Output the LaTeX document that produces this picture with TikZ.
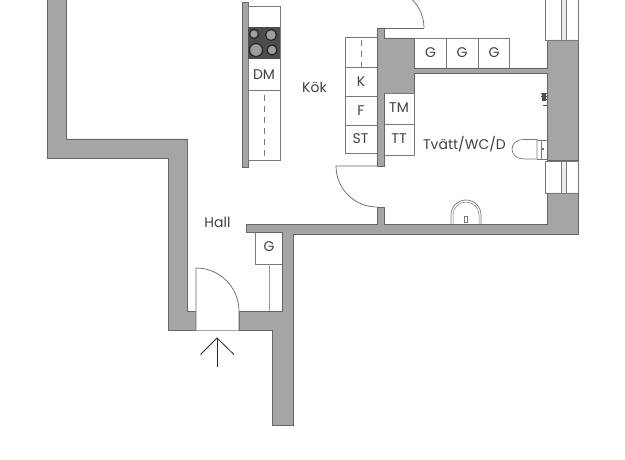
\documentclass[tikz,border=0pt]{standalone}
\usepackage{fontspec}
\setmainfont{Poppins}
\definecolor{wallgray}{HTML}{A5A5A5}
\definecolor{edgegray}{HTML}{666666}
\definecolor{fitgray}{HTML}{7A7A7A}
\tikzset{
    wall/.style={fill=wallgray, draw=edgegray, line width=0.7pt},
    fitting/.style={draw=fitgray, line width=0.7pt},
    pane/.style={fill=black!8, draw=fitgray, line width=0.5pt},
    dashline/.style={draw=fitgray, line width=0.6pt, dash pattern=on 6pt off 5pt},
    roomlabel/.style={font=\fontsize{14}{16}\selectfont, text=black!75},
    burner/.style={fill=black!38, draw=black!85, line width=1.2pt},
    doorline/.style={draw=edgegray, line width=0.7pt}
}
\begin{document}
\begin{tikzpicture}[x=1pt, y=-1pt]
    \useasboundingbox (0,0) rectangle (625,460);

    % Outer wall on the left, with the entrance
    \draw[wall] (47,-2) -- (47,158) -- (168,158) -- (168,330) -- (196,330) -- (196,311)
        -- (187,311) -- (187,139) -- (66,139) -- (66,-2) -- cycle;
    \draw[wall] (239,330) -- (272,330) -- (272,425) -- (293,425) -- (293,234) -- (578,234)
        -- (578,193) -- (547,193) -- (547,224) -- (384,224) -- (384,207) -- (377,207)
        -- (377,224) -- (246,224) -- (246,232) -- (282,232) -- (282,311) -- (239,311) -- cycle;

    % Inner walls
    \draw[wall] (377,28) -- (384,28) -- (384,38) -- (414,38) -- (414,68) -- (547,68)
        -- (547,40) -- (578,40) -- (578,160) -- (547,160) -- (547,73) -- (414,73)
        -- (414,93) -- (384,93) -- (384,166) -- (377,166) -- cycle;
    \draw[wall] (242,2) rectangle (248,167);

    % Windows
    \draw[fitting] (578,-2) -- (578,40) -- (545,40) -- (545,-2);
    \draw[pane] (561,-2) rectangle (566,40);
    \draw[fitting] (578,161) -- (545,161) -- (545,193) -- (578,193) -- cycle;
    \draw[pane] (561,161) rectangle (566,193);

    % Kitchen island
    \draw[fitting] (248,6) rectangle (280,160);
    \draw[fitting] (248,90) -- (280,90);
    \draw[dashline] (264,95) -- (264,160);
    \fill[black!70] (248,27) rectangle (280,59);
    \draw[burner] (254,34) circle (4.5);
    \draw[burner] (271,35) circle (5.5);
    \draw[burner] (256,50) circle (6.5);
    \draw[burner] (272,50) circle (5);
    \node[roomlabel] (dm) at (264,75) {DM};

    % Kitchen cabinets on the wall
    \draw[fitting] (377,37) -- (345,37) -- (345,153) -- (377,153);
    \draw[fitting] (345,67) -- (377,67) (345,96) -- (377,96) (345,125) -- (377,125);
    \draw[dashline] (361,40) -- (361,67);
    \node[roomlabel] (k) at (361,81.5) {K};
    \node[roomlabel] (f) at (361,110.5) {F};
    \node[roomlabel] (st) at (360.5,139) {ST};

    \draw[fitting] (384,93) -- (414,93) -- (414,155) -- (384,155);
    \draw[fitting] (384,124) -- (414,124);
    \node[roomlabel] (tm) at (399,108) {TM};
    \node[roomlabel] (tt) at (399,139) {TT};

    % Laundry cabinets
    \draw[fitting] (414,38) -- (509,38) -- (509,68);
    \foreach \x in {446,478} {
        \draw[fitting] (\x,38) -- (\x,68);
    }
    \node[roomlabel] (g1) at (430.5,53) {G};
    \node[roomlabel] (g2) at (462,53) {G};
    \node[roomlabel] (g3) at (494,53) {G};

    % Hall wardrobe
    \draw[fitting] (255,232) -- (255,264) -- (282,264);
    \draw[fitting, draw=black!40, line width=1pt] (269,264) -- (269,311);
    \node[roomlabel] (g4) at (269,247) {G};

    % Doors
    \draw[doorline] (424,28) -- (384,28);
    \draw[doorline] (424,28) arc[start angle=0, end angle=-46, radius=40];
    \draw[doorline] (377,166) -- (336,166) arc[start angle=180, end angle=90, radius=41];
    \fill[white] (196,268) arc[start angle=-90, end angle=0, radius=43] -- (239,330) -- (196,330) -- cycle;
    \draw[doorline] (196,330) -- (196,268) arc[start angle=-90, end angle=0, radius=43] -- (239,330);
    \draw[draw=black!35, line width=0.7pt] (196,330) -- (239,330);

    % Arrow at the entrance
    \draw[black!85, line width=0.8pt] (217,367) -- (217,338);
    \draw[black!85, line width=0.8pt] (200.5,354.5) -- (217,338) -- (234,354.5);

    % Toilet
    \draw[fitting] (537,139.5) -- (524,139.5)
        .. controls (516,139.5) and (512,144) .. (512,149)
        .. controls (512,155) and (517,159) .. (524,159) -- (537,159) -- cycle;
    \draw[fitting] (537,140) -- (547,140) (537,159) -- (547,159) (541,140) -- (541,159);
    \fill[fitting] (543,149) circle (1);

    % Washbasin
    \draw[fitting] (451,224) -- (451,215) arc[start angle=180, end angle=360, radius=15] -- (481,224);
    \draw[fitting, line width=0.5pt] (453,224) -- (453,215) arc[start angle=180, end angle=360, radius=13] -- (479,224);
    \draw[fitting, line width=0.5pt] (464.5,216) rectangle (467.5,222);

    % Tap
    \draw[black!70, line width=0.8pt] (541,93) -- (547,93) (541,96) -- (547,96) (543,99) -- (547,99) (543,105) -- (547,105);
    \fill[black!70] (542,94) rectangle (546,101);

    % Room labels
    \node[roomlabel] (kok) at (314.5,87) {Kök};
    \node[roomlabel] (hall) at (217.5,222) {Hall};
    \node[roomlabel] (tvatt) at (464.5,144.5) {Tvätt/WC/D};
\end{tikzpicture}
\end{document}
